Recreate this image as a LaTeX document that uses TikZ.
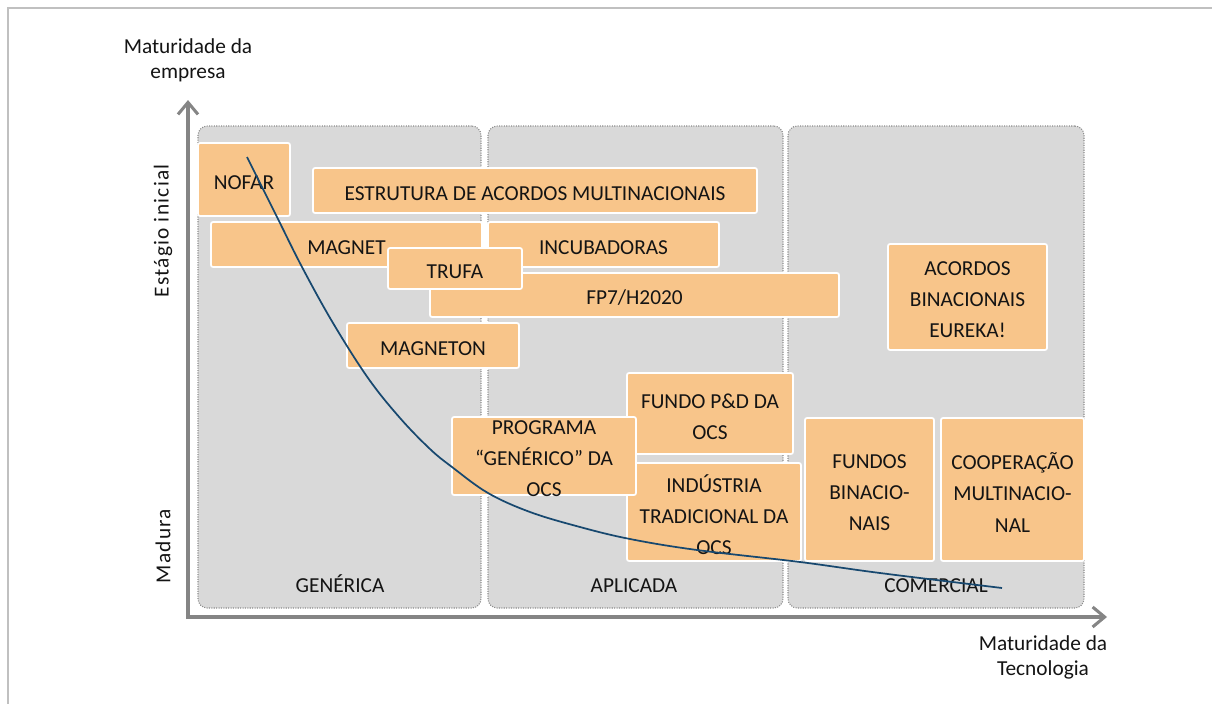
\documentclass[tikz,border=0pt]{standalone}
\usepackage{fontspec}
\setmainfont{Carlito}
\usetikzlibrary{arrows.meta,fit}
\definecolor{boxfill}{HTML}{F8C58A}
\definecolor{panelfill}{HTML}{D9D9D9}
\definecolor{panelline}{HTML}{8C8C8C}
\definecolor{axisgray}{HTML}{858585}
\definecolor{framegray}{HTML}{C0C0C0}
\definecolor{curveblue}{HTML}{17486F}
\definecolor{txtcol}{HTML}{141414}
\tikzset{
  panel/.style={fill=panelfill,draw=panelline,densely dotted,line width=0.8pt,rounded corners=7pt,inner sep=0pt},
  box/.style={fill=boxfill,draw=white,line width=1.3pt,rounded corners=1.5pt,inner sep=0pt},
  txt/.style={text=txtcol,align=center,inner sep=0pt,yshift=-2.2pt,font=\fontsize{16}{23.3}\selectfont},
  panlabel/.style={text=txtcol,inner sep=0pt,anchor=base,font=\fontsize{16}{19}\selectfont},
  sidelabel/.style={text=txtcol,align=center,inner sep=0pt,rotate=90,font=\fontsize{16}{19}\selectfont\addfontfeature{LetterSpace=6}},
  axlabel/.style={text=txtcol,align=center,inner sep=0pt,font=\fontsize{16}{18.8}\selectfont},
  axisline/.style={draw=axisgray,line width=2.3pt,-{Straight Barb[length=9pt,width=15pt,line width=2.3pt]}},
}
\begin{document}
\begin{tikzpicture}[x=0.75pt,y=-0.75pt]
\useasboundingbox (0,0) rectangle (1212,704);
% frame
\draw[framegray,line width=1.5pt] (1212,8) -- (8,8) -- (8,704);
% panels
\node[panel,fit={(198,126) (481,608)}] (pgen) {};
\node[panel,fit={(488,126) (783,608)}] (papl) {};
\node[panel,fit={(788,126) (1084,608)}] (pcom) {};
\node[panlabel] (lgen) at (340,592) {GENÉRICA};
\node[panlabel] (lapl) at (634,592) {APLICADA};
\node[panlabel] (lcom) at (936,592) {COMERCIAL};
% axes
\coordinate (origin) at (188,617);
\coordinate (ytip) at (188,100);
\coordinate (xtip) at (1107,617);
\draw[axisline] (188,619) -- (ytip);
\draw[axisline] (186.5,617) -- (xtip);
\node[axlabel] (ylab) at (188,60) {Maturidade da\\empresa};
\node[axlabel] (xlab) at (1043,657) {Maturidade da\\Tecnologia};
\node[sidelabel] (early) at (163,231) {Estágio inicial};
\node[sidelabel] (mature) at (163,546) {Madura};
% boxes
\node[box,fit={(198,143) (290,216)}] (nofar) {};
\node[txt] at (nofar) {NOFAR};
\node[box,fit={(313,168) (757,213)}] (estr) {};
\node[txt] at (estr) {ESTRUTURA DE ACORDOS MULTINACIONAIS};
\node[box,fit={(211,222) (482,267)}] (magnet) {};
\node[txt] at (magnet) {MAGNET};
\node[box,fit={(488,222) (719,267)}] (incub) {};
\node[txt] at (incub) {INCUBADORAS};
\node[box,fit={(430,273) (839,317)}] (fp7) {};
\node[txt] at (fp7) {FP7/H2020};
\node[box,fit={(388,248) (522,289)}] (trufa) {};
\node[txt] at (trufa) {TRUFA};
\node[box,fit={(347,323) (519,368)}] (magneton) {};
\node[txt] at (magneton) {MAGNETON};
\node[box,fit={(888,244) (1047,350)}] (eureka) {};
\node[txt] at (eureka) {ACORDOS\\BINACIONAIS\\EUREKA!};
\node[box,fit={(627,373) (793,454)}] (fundo) {};
\node[txt] at (fundo) {FUNDO P\&D DA\\OCS};
\node[box,fit={(627,463) (801,561)}] (indus) {};
\node[txt] at (indus) {INDÚSTRIA\\TRADICIONAL DA\\OCS};
\node[box,fit={(452,417) (636,495)}] (prog) {};
\node[txt] at (prog) {PROGRAMA\\“GENÉRICO” DA\\OCS};
\node[box,fit={(805,418) (934,561)}] (fbin) {};
\node[txt] at (fbin) {FUNDOS\\BINACIO-\\NAIS};
\node[box,fit={(941,418) (1084,561)}] (coop) {};
\node[txt] at (coop) {COOPERAÇÃO\\MULTINACIO-\\NAL};
% curve
\draw[curveblue,line width=1.3pt] plot[smooth,tension=0.6] coordinates {
 (247,157) (277,217) (302,267) (333,323) (368,378) (400,418) (430,449) (452,467) (488,493) (530,512) (580,527) (630,539) (697,550) (800,562) (880,573) (1002,588)};
\end{tikzpicture}
\end{document}
